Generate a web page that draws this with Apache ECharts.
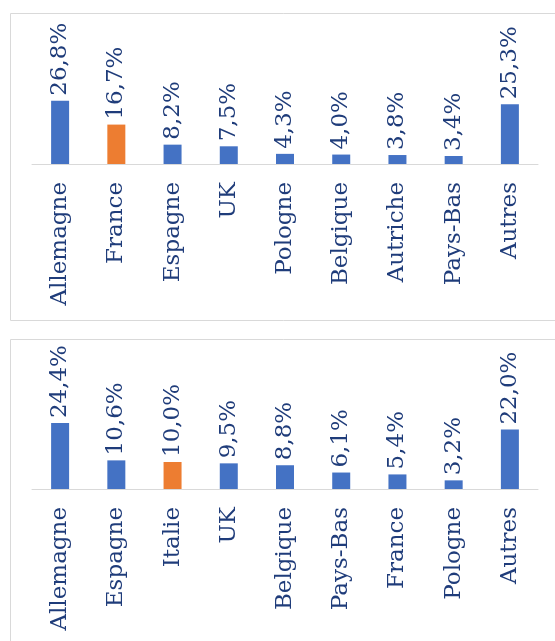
<!DOCTYPE html>
<html>
<head>
<meta charset="utf-8">
<script src="https://cdn.jsdelivr.net/npm/echarts@6/dist/echarts.min.js"></script>
<style>
html,body{margin:0;padding:0;background:#fff;}
#c{width:555px;height:641px;}
</style>
</head>
<body>
<div id="c"></div>
<script>
const categories1 = ['Allemagne','France','Espagne','UK','Pologne','Belgique','Autriche','Pays-Bas','Autres'];
const values1 = [26.8, 16.7, 8.2, 7.5, 4.3, 4.0, 3.8, 3.4, 25.3];
const highlight1 = 'France';

const categories2 = ['Allemagne','Espagne','Italie','UK','Belgique','Pays-Bas','France','Pologne','Autres'];
const values2 = [24.4, 10.6, 10.0, 9.5, 8.8, 6.1, 5.4, 3.2, 22.0];
const highlight2 = 'Italie';

const BLUE = '#4472C4', ORANGE = '#ED7D31', TEXT = '#1F3C7A', LINE = '#D9D9D9';
const FONT = 'DejaVu Serif';

function mk(cats, vals, hl) {
  return vals.map((v, i) => ({ value: v, itemStyle: { color: cats[i] === hl ? ORANGE : BLUE } }));
}
function fmt(p) { return p.value.toFixed(1).replace('.', ',') + '%'; }

const chart = echarts.init(document.getElementById('c'), null, { renderer: 'canvas' });
const xa = (idx, cats) => ({
  type: 'category', gridIndex: idx, data: cats,
  axisLine: { lineStyle: { color: LINE, width: 1 } },
  axisTick: { show: false },
  axisLabel: { interval: 0, rotate: 90, margin: 18, fontFamily: FONT, fontSize: 23, color: TEXT }
});
const ya = (idx) => ({ type: 'value', gridIndex: idx, min: 0, max: 30, show: false, splitLine: { show: false } });
const lbl = { show: true, position: 'top', rotate: 90, align: 'left', verticalAlign: 'middle', distance: 5,
  fontFamily: FONT, fontSize: 23, color: TEXT, formatter: fmt };

chart.setOption({
  animation: false,
  graphic: [
    { type: 'rect', shape: { x: 10.5, y: 13.5, width: 600, height: 307 }, style: { fill: 'none', stroke: LINE, lineWidth: 1 }, z: -10 },
    { type: 'rect', shape: { x: 10.5, y: 339.5, width: 600, height: 400 }, style: { fill: 'none', stroke: LINE, lineWidth: 1 }, z: -10 }
  ],
  grid: [
    { left: 32, right: 17, top: 93.2, height: 70.8 },
    { left: 32, right: 17, top: 408, height: 81 }
  ],
  xAxis: [xa(0, categories1), xa(1, categories2)],
  yAxis: [ya(0), ya(1)],
  series: [
    { type: 'bar', xAxisIndex: 0, yAxisIndex: 0, barWidth: 18, data: mk(categories1, values1, highlight1), label: lbl },
    { type: 'bar', xAxisIndex: 1, yAxisIndex: 1, barWidth: 18, data: mk(categories2, values2, highlight2), label: lbl }
  ]
});
</script>
</body>
</html>
